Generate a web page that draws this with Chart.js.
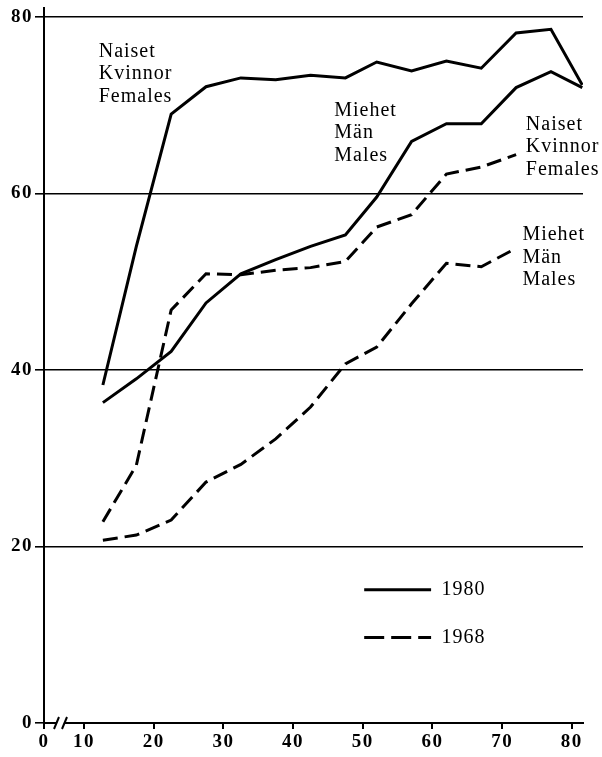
<!DOCTYPE html>
<html>
<head>
<meta charset="utf-8">
<script src="https://cdn.jsdelivr.net/npm/chart.js@4.4.0/dist/chart.umd.min.js"></script>
<style>
html, body { margin: 0; padding: 0; background: #fff; }
#wrap { width: 602px; height: 757px; }
</style>
</head>
<body>
<div id="wrap"><canvas id="chartCanvas" width="602" height="757"></canvas></div>
<script>
// age (x) and share (y)
const ages = [12.7, 17.5, 22.5, 27.5, 32.5, 37.5, 42.5, 47.5, 52, 57, 62, 67, 72, 77, 81.5];
const females1980 = [38.3, 54, 69, 72.1, 73.1, 72.9, 73.4, 73.1, 74.9, 73.9, 75.0, 74.2, 78.2, 78.6, 72.3];
const males1980 = [36.3, 39.0, 42.1, 47.6, 50.9, 52.5, 54.0, 55.3, 59.6, 65.9, 67.9, 67.9, 72.0, 73.8, 72.0];
const females1968 = [22.8, 29.2, 46.8, 50.9, 50.8, 51.3, 51.6, 52.3, 56.2, 57.6, 62.2, 63.0, 64.4];
const males1968 = [20.7, 21.3, 23.0, 27.3, 29.3, 32.2, 35.8, 40.7, 42.6, 47.5, 52.1, 51.7, 53.8];

const xTicks = [0, 10, 20, 30, 40, 50, 60, 70, 80];
const yTicks = [0, 20, 40, 60, 80];
const xMin = 4.25; // axis is broken, "0" sits at the left edge
const xMax = 81.6;

const labelBlocks = [
    {lines: ['Naiset', 'Kvinnor', 'Females'], x: 12.1, y: 76.1},
    {lines: ['Miehet', 'Män', 'Males'], x: 45.9, y: 69.4},
    {lines: ['Naiset', 'Kvinnor', 'Females'], x: 73.4, y: 67.8},
    {lines: ['Miehet', 'Män', 'Males'], x: 72.9, y: 55.3}
];
const legendItems = [
    {label: '1980', dash: [], y: 15.1},
    {label: '1968', dash: [20, 7], y: 9.7}
];

function pts(vals){
    return vals.map((v, i) => ({x: ages[i], y: v}));
}

const lineStyle = {borderColor: '#000', borderWidth: 3, pointRadius: 0, tension: 0, fill: false};

const textPlugin = {
    id: 'textPlugin',
    beforeDraw(chart){
        chart.ctx.letterSpacing = '1.5px';
    },
    afterDraw(chart){
        const ctx = chart.ctx;
        const x = chart.scales.x, y = chart.scales.y;
        const area = chart.chartArea;
        ctx.save();
        ctx.letterSpacing = '0px';

        // axis break on the x axis
        const b = area.bottom;
        ctx.fillStyle = '#fff';
        ctx.fillRect(area.left + 13, b - 2, 8, 4);
        ctx.strokeStyle = '#000';
        ctx.lineWidth = 2;
        ctx.beginPath();
        ctx.moveTo(area.left + 10, b + 6); ctx.lineTo(area.left + 15, b - 6);
        ctx.moveTo(area.left + 18, b + 6); ctx.lineTo(area.left + 23, b - 6);
        // y axis sticks out a bit above 80
        ctx.moveTo(area.left, area.top); ctx.lineTo(area.left, area.top - 10);
        ctx.stroke();

        // series labels
        ctx.fillStyle = '#000';
        ctx.font = '20px "Liberation Serif"';
        ctx.letterSpacing = '1px';
        ctx.textBaseline = 'middle';
        ctx.textAlign = 'left';
        labelBlocks.forEach(bl => {
            const px = x.getPixelForValue(bl.x);
            const py = y.getPixelForValue(bl.y);
            bl.lines.forEach((t, i) => ctx.fillText(t, px, py + i * 22.5));
        });

        // legend
        legendItems.forEach(it => {
            const py = y.getPixelForValue(it.y);
            ctx.setLineDash(it.dash);
            ctx.lineWidth = 3;
            ctx.beginPath();
            ctx.moveTo(x.getPixelForValue(50.2), py);
            ctx.lineTo(x.getPixelForValue(59.8), py);
            ctx.stroke();
            ctx.setLineDash([]);
            ctx.fillText(it.label, x.getPixelForValue(61.3), py);
        });
        ctx.restore();
    }
};

const ctx = document.getElementById('chartCanvas');
new Chart(ctx, {
    type: 'line',
    data: {
        datasets: [
            {label: '1980 Naiset', data: pts(females1980), ...lineStyle},
            {label: '1980 Miehet', data: pts(males1980), ...lineStyle},
            {label: '1968 Naiset', data: pts(females1968), ...lineStyle, borderDash: [15, 7]},
            {label: '1968 Miehet', data: pts(males1968), ...lineStyle, borderDash: [15, 7]}
        ]
    },
    options: {
        responsive: false,
        animation: false,
        devicePixelRatio: 1,
        layout: {padding: {top: 17, right: 19, left: 0, bottom: 0}},
        plugins: {legend: {display: false}, tooltip: {enabled: false}},
        scales: {
            x: {
                type: 'linear',
                min: xMin,
                max: xMax,
                afterBuildTicks: s => { s.ticks = xTicks.map(v => ({value: v === 0 ? xMin : v})); },
                afterFit: s => { s.height = 34; },
                grid: {drawOnChartArea: false, drawTicks: true, tickLength: 6, color: '#000', lineWidth: 2},
                border: {display: true, color: '#000', width: 2},
                ticks: {
                    autoSkip: false, maxRotation: 0, padding: 2, color: '#000',
                    font: {family: 'Liberation Serif', size: 19, weight: 'bold'},
                    callback: v => v === xMin ? '0' : v
                }
            },
            y: {
                min: 0,
                max: 80,
                afterBuildTicks: s => { s.ticks = yTicks.map(v => ({value: v})); },
                afterFit: s => { s.width = 44; },
                grid: {color: '#000', lineWidth: 1.6, tickLength: 9},
                border: {display: true, color: '#000', width: 2},
                ticks: {
                    padding: 2, color: '#000',
                    font: {family: 'Liberation Serif', size: 19, weight: 'bold'}
                }
            }
        }
    },
    plugins: [textPlugin]
});
</script>
</body>
</html>
